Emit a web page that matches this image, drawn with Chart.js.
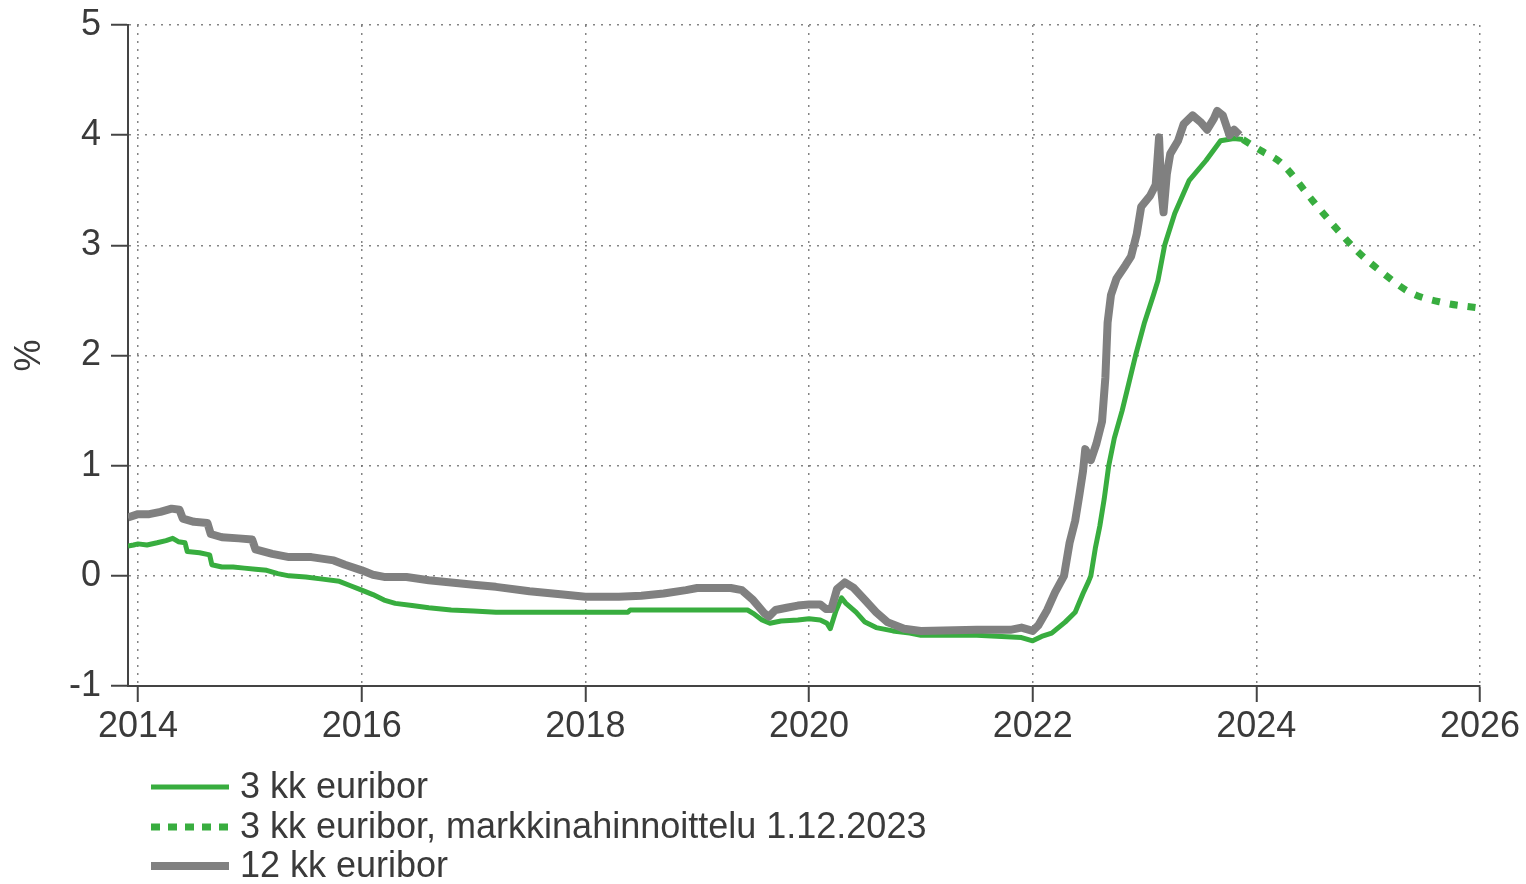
<!DOCTYPE html>
<html>
<head>
<meta charset="utf-8">
<script src="https://cdn.jsdelivr.net/npm/chart.js@4"></script>
<style>
  html, body { margin: 0; padding: 0; background: #fff; }
  canvas { display: block; }
</style>
</head>
<body>
<canvas id="euriborChart" width="1526" height="884"></canvas>
<script>
// 3 kk euribor (decimal year, %)
const euribor3Years = [2013.91, 2013.96, 2014.0, 2014.08, 2014.17, 2014.25, 2014.31, 2014.36, 2014.42, 2014.44, 2014.55, 2014.64, 2014.66, 2014.75, 2014.85, 2014.95, 2015.05, 2015.15, 2015.25, 2015.35, 2015.5, 2015.65, 2015.8, 2015.9, 2016.0, 2016.1, 2016.2, 2016.3, 2016.45, 2016.6, 2016.8, 2017.0, 2017.2, 2017.6, 2018.0, 2018.38, 2018.4, 2018.8, 2019.0, 2019.45, 2019.5, 2019.58, 2019.65, 2019.75, 2019.9, 2020.0, 2020.1, 2020.16, 2020.19, 2020.24, 2020.29, 2020.33, 2020.42, 2020.5, 2020.6, 2020.75, 2020.9, 2021.0, 2021.5, 2021.9, 2022.0, 2022.08, 2022.17, 2022.29, 2022.38, 2022.45, 2022.5, 2022.52, 2022.56, 2022.6, 2022.64, 2022.68, 2022.73, 2022.8, 2022.86, 2022.92, 2023.0, 2023.08, 2023.12, 2023.18, 2023.27, 2023.4, 2023.55, 2023.68, 2023.8, 2023.88];
const euribor3Values = [0.27, 0.28, 0.29, 0.28, 0.30, 0.32, 0.34, 0.31, 0.30, 0.22, 0.21, 0.19, 0.10, 0.08, 0.08, 0.07, 0.06, 0.05, 0.02, 0.00, -0.01, -0.03, -0.05, -0.09, -0.13, -0.17, -0.22, -0.25, -0.27, -0.29, -0.31, -0.32, -0.33, -0.33, -0.33, -0.33, -0.31, -0.31, -0.31, -0.31, -0.34, -0.40, -0.43, -0.41, -0.40, -0.39, -0.40, -0.43, -0.48, -0.32, -0.20, -0.25, -0.33, -0.42, -0.47, -0.50, -0.52, -0.54, -0.54, -0.56, -0.59, -0.55, -0.52, -0.42, -0.33, -0.16, -0.05, 0.00, 0.25, 0.45, 0.70, 1.00, 1.25, 1.50, 1.75, 2.00, 2.30, 2.55, 2.68, 3.00, 3.29, 3.59, 3.77, 3.95, 3.97, 3.96];

// 3 kk euribor, markkinahinnoittelu 1.12.2023
const forecastYears = [2023.88, 2024.04, 2024.22, 2024.5, 2024.7, 2024.91, 2025.13, 2025.38, 2025.67, 2026.0];
const forecastValues = [3.96, 3.86, 3.75, 3.41, 3.17, 2.94, 2.75, 2.57, 2.48, 2.43];

// 12 kk euribor
const euribor12Years = [2013.91, 2014.0, 2014.1, 2014.2, 2014.3, 2014.37, 2014.4, 2014.5, 2014.62, 2014.65, 2014.75, 2014.9, 2015.02, 2015.05, 2015.2, 2015.35, 2015.55, 2015.75, 2015.85, 2016.0, 2016.1, 2016.2, 2016.4, 2016.6, 2016.8, 2017.0, 2017.2, 2017.5, 2017.8, 2018.0, 2018.3, 2018.5, 2018.7, 2018.9, 2019.0, 2019.3, 2019.4, 2019.5, 2019.6, 2019.64, 2019.7, 2019.8, 2019.9, 2020.0, 2020.1, 2020.15, 2020.2, 2020.25, 2020.32, 2020.4, 2020.5, 2020.6, 2020.7, 2020.85, 2021.0, 2021.5, 2021.8, 2021.9, 2022.0, 2022.05, 2022.13, 2022.2, 2022.28, 2022.33, 2022.38, 2022.42, 2022.45, 2022.47, 2022.52, 2022.57, 2022.62, 2022.65, 2022.67, 2022.7, 2022.75, 2022.83, 2022.88, 2022.93, 2022.97, 2023.05, 2023.1, 2023.13, 2023.15, 2023.17, 2023.2, 2023.23, 2023.3, 2023.35, 2023.43, 2023.5, 2023.56, 2023.62, 2023.65, 2023.7, 2023.76, 2023.8, 2023.85];
const euribor12Values = [0.53, 0.56, 0.56, 0.58, 0.61, 0.60, 0.52, 0.49, 0.48, 0.38, 0.35, 0.34, 0.33, 0.24, 0.20, 0.17, 0.17, 0.14, 0.10, 0.05, 0.01, -0.01, -0.01, -0.04, -0.06, -0.08, -0.10, -0.14, -0.17, -0.19, -0.19, -0.18, -0.16, -0.13, -0.11, -0.11, -0.13, -0.22, -0.34, -0.37, -0.31, -0.29, -0.27, -0.26, -0.26, -0.30, -0.30, -0.12, -0.06, -0.11, -0.22, -0.33, -0.42, -0.48, -0.50, -0.49, -0.49, -0.47, -0.50, -0.45, -0.31, -0.15, 0.00, 0.30, 0.50, 0.75, 0.95, 1.15, 1.05, 1.20, 1.40, 1.80, 2.30, 2.55, 2.70, 2.82, 2.90, 3.10, 3.35, 3.45, 3.55, 3.98, 3.50, 3.30, 3.65, 3.83, 3.95, 4.10, 4.18, 4.12, 4.05, 4.15, 4.22, 4.18, 4.00, 4.05, 4.00];

const yearTicks = [2014, 2016, 2018, 2020, 2022, 2024, 2026];
const valueTicks = [-1, 0, 1, 2, 3, 4, 5];
const seriesLabels = ["3 kk euribor", "3 kk euribor, markkinahinnoittelu 1.12.2023", "12 kk euribor"];

const GREEN = "#38ad3f";
const GREY = "#808080";
const TEXT = "#3a3a3a";
const AXIS = "#444444";
const FONT = "'Liberation Sans', Arial, sans-serif";
const FONT_SIZE = 36;

const toPoints = (xs, ys) => xs.map((x, i) => ({ x: x, y: ys[i] }));

// legend drawn as three stacked rows under the axis
const stackedLegend = {
  id: "stackedLegend",
  afterDraw(chart) {
    const ctx = chart.ctx;
    const rows = [787, 827, 866];
    ctx.save();
    chart.data.datasets.forEach((ds, i) => {
      const y = rows[i];
      ctx.beginPath();
      ctx.strokeStyle = ds.borderColor;
      ctx.lineWidth = ds.borderWidth;
      ctx.setLineDash(ds.legendDash || []);
      ctx.moveTo(151, y);
      ctx.lineTo(229, y);
      ctx.stroke();
      ctx.setLineDash([]);
      ctx.fillStyle = TEXT;
      ctx.font = FONT_SIZE + "px " + FONT;
      ctx.textBaseline = "middle";
      ctx.textAlign = "left";
      ctx.fillText(ds.label, 240, y + 1);
    });
    ctx.restore();
  },
};

const ctx = document.getElementById("euriborChart").getContext("2d");

new Chart(ctx, {
  type: "line",
  data: {
    datasets: [
      {
        label: seriesLabels[0],
        data: toPoints(euribor3Years, euribor3Values),
        borderColor: GREEN,
        borderWidth: 5,
        pointRadius: 0,
        borderJoinStyle: "round",
        order: 1,
      },
      {
        label: seriesLabels[1],
        data: toPoints(forecastYears, forecastValues),
        borderColor: GREEN,
        borderWidth: 7,
        borderDash: [8, 10],
        legendDash: [9, 8],
        pointRadius: 0,
        cubicInterpolationMode: "monotone",
        order: 1,
      },
      {
        label: seriesLabels[2],
        data: toPoints(euribor12Years, euribor12Values),
        borderColor: GREY,
        borderWidth: 8,
        pointRadius: 0,
        borderJoinStyle: "round",
        order: 0,
      },
    ],
  },
  options: {
    responsive: false,
    animation: false,
    devicePixelRatio: 1,
    layout: { padding: { top: 25, right: 46, left: 0, bottom: 0 } },
    plugins: {
      legend: { display: false },
      tooltip: { enabled: false },
    },
    scales: {
      x: {
        type: "linear",
        min: 2013.91,
        max: 2026,
        afterBuildTicks: (scale) => {
          scale.ticks = yearTicks.map((v) => ({ value: v }));
        },
        afterFit: (scale) => {
          scale.height = 198;
          scale.paddingLeft = 0;
          scale.paddingRight = 0;
        },
        ticks: {
          color: TEXT,
          font: { family: FONT, size: FONT_SIZE },
          padding: 3,
          maxRotation: 0,
          autoSkip: false,
          callback: (v) => String(v),
        },
        grid: {
          color: "rgba(110,110,110,0.85)",
          lineWidth: 1.5,
          tickColor: AXIS,
          tickWidth: 2,
          tickLength: 16,
          tickBorderDash: [],
        },
        border: { display: true, color: AXIS, width: 2, dash: [2, 6] },
      },
      y: {
        min: -1,
        max: 5,
        afterBuildTicks: (scale) => {
          scale.ticks = valueTicks.map((v) => ({ value: v }));
        },
        afterFit: (scale) => {
          scale.width = 128;
          scale.paddingTop = 0;
          scale.paddingBottom = 0;
        },
        title: {
          display: true,
          text: "%",
          color: TEXT,
          font: { family: FONT, size: FONT_SIZE },
          padding: { top: 8, bottom: 0 },
        },
        ticks: {
          color: TEXT,
          font: { family: FONT, size: FONT_SIZE },
          padding: 10,
        },
        grid: {
          color: "rgba(110,110,110,0.85)",
          lineWidth: 1.5,
          tickColor: AXIS,
          tickWidth: 2,
          tickLength: 17,
          tickBorderDash: [],
        },
        border: { display: true, color: AXIS, width: 2, dash: [2, 6] },
      },
    },
  },
  plugins: [stackedLegend],
});
</script>
</body>
</html>
